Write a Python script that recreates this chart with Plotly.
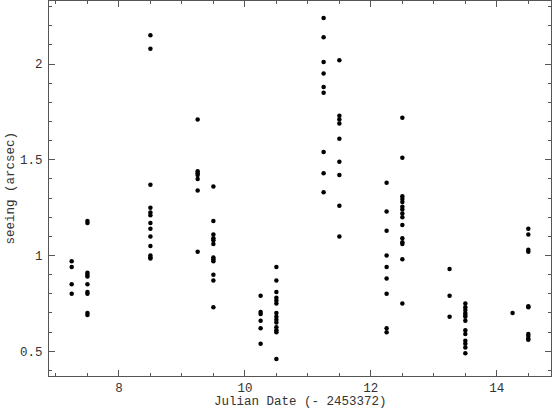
import plotly.graph_objects as go

# night offsets (JD - 2453372) and seeing measurements for each group
nights = [7.25, 7.5, 8.5, 9.25, 9.5, 10.25, 10.5, 11.25, 11.5, 12.25, 12.5, 13.25, 13.5, 14.25, 14.5]

seeing = [
    [0.97, 0.94, 0.85, 0.80],
    [1.18, 1.17, 0.91, 0.90, 0.89, 0.85, 0.81, 0.80, 0.70, 0.69],
    [2.15, 2.08, 1.37, 1.25, 1.225, 1.21, 1.17, 1.14, 1.10, 1.05, 1.00, 0.99, 0.985],
    [1.71, 1.44, 1.43, 1.42, 1.40, 1.34, 1.02],
    [1.36, 1.18, 1.11, 1.09, 1.08, 1.06, 0.99, 0.98, 0.97, 0.90, 0.87, 0.73],
    [0.79, 0.705, 0.695, 0.66, 0.62, 0.54],
    [0.94, 0.87, 0.81, 0.78, 0.765, 0.75, 0.70, 0.68, 0.665, 0.65, 0.625, 0.61, 0.60, 0.46],
    [2.24, 2.14, 2.01, 1.95, 1.88, 1.85, 1.54, 1.43, 1.33],
    [2.02, 1.73, 1.71, 1.69, 1.61, 1.49, 1.42, 1.26, 1.10],
    [1.38, 1.23, 1.13, 1.00, 0.94, 0.88, 0.80, 0.62, 0.60],
    [1.72, 1.51, 1.31, 1.295, 1.28, 1.255, 1.24, 1.22, 1.20, 1.16, 1.09, 1.07, 1.06, 0.98, 0.75],
    [0.93, 0.79, 0.68],
    [0.75, 0.73, 0.715, 0.70, 0.69, 0.68, 0.66, 0.61, 0.59, 0.555, 0.54, 0.52, 0.49],
    [0.70],
    [1.14, 1.11, 1.03, 1.02, 0.735, 0.73, 0.59, 0.58, 0.565, 0.56],
]

x = []
y = []
for n, vals in zip(nights, seeing):
    x += [n] * len(vals)
    y += vals

fig = go.Figure()
fig.add_trace(go.Scatter(
    x=x, y=y, mode='markers',
    marker=dict(color='black', size=4.5),
    showlegend=False))

axis_col = '#555555'
fnt = dict(family='Liberation Mono, DejaVu Sans Mono, monospace', size=12.5, color='#333333')

fig.update_xaxes(
    range=[6.89, 14.86], tickvals=[8, 10, 12, 14],
    ticks='inside', ticklen=6, tickcolor=axis_col, tickwidth=1,
    minor=dict(dtick=0.5, tick0=0, ticks='inside', ticklen=3, tickcolor=axis_col, tickwidth=1),
    showline=True, linecolor=axis_col, linewidth=1, mirror='allticks',
    showgrid=False, zeroline=False, tickfont=fnt, automargin=False,
    ticklabelstandoff=0)

fig.update_yaxes(
    range=[0.371, 2.329], tickvals=[0.5, 1, 1.5, 2], ticktext=['0.5', '1', '1.5', '2'],
    ticks='inside', ticklen=6, tickcolor=axis_col, tickwidth=1,
    minor=dict(dtick=0.1, tick0=0, ticks='inside', ticklen=3, tickcolor=axis_col, tickwidth=1),
    showline=True, linecolor=axis_col, linewidth=1, mirror='allticks',
    showgrid=False, zeroline=False, tickfont=fnt, automargin=False,
    ticklabelstandoff=3)

fig.add_annotation(text='Julian Date (- 2453372)', xref='paper', yref='paper',
                   x=0.5, y=0, yshift=-26, xanchor='center', yanchor='middle',
                   showarrow=False, font=fnt)
fig.add_annotation(text='seeing (arcsec)', xref='paper', yref='paper',
                   x=0, y=0.5, xshift=-39, xanchor='center', yanchor='middle',
                   textangle=-90, showarrow=False, font=fnt)

fig.update_layout(
    width=552, height=409,
    margin=dict(l=49, r=1, t=1, b=33),
    plot_bgcolor='white', paper_bgcolor='white')

# drop the page's default body margin so the figure sits at the window corner
fig.write_html("out.html", config={'displayModeBar': False},
               post_script="document.body.style.margin='0';")
